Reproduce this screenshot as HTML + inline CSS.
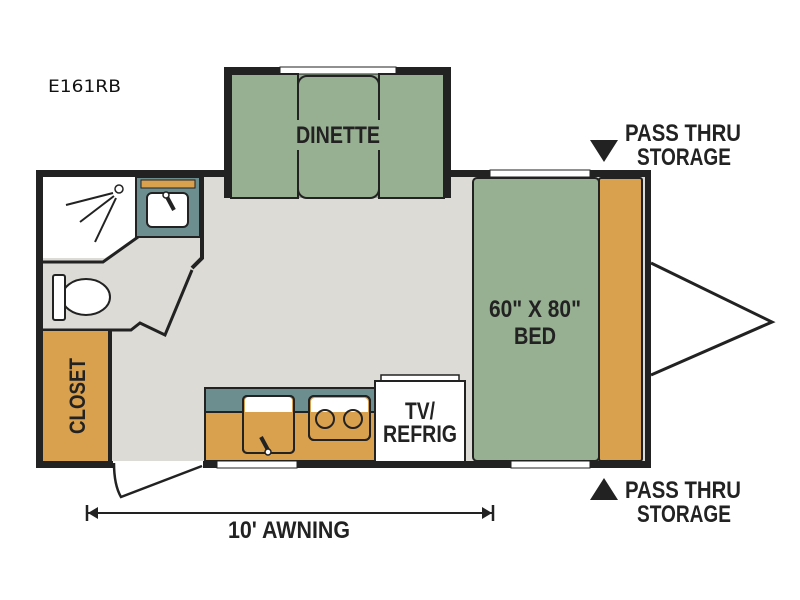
<!DOCTYPE html>
<html><head><meta charset="utf-8"><style>html,body{margin:0;padding:0;background:#fff}svg{display:block}</style></head>
<body>
<svg width="800" height="600" viewBox="0 0 800 600" xmlns="http://www.w3.org/2000/svg">
<rect width="800" height="600" fill="#fff"/>
<text x="48" y="92" font-family="DejaVu Sans, sans-serif" font-size="17" textLength="73" lengthAdjust="spacingAndGlyphs" fill="#111">E161RB</text>

<!-- tongue -->
<polyline points="651,263 772,322 651,375" fill="none" stroke="#222" stroke-width="3"/>

<!-- main shell -->
<rect x="36" y="170" width="615" height="298" fill="#222"/>
<rect x="43" y="177" width="602" height="284" fill="#dcdbd6"/>
<!-- dinette bump -->
<rect x="224" y="67" width="227" height="131" fill="#222"/>
<rect x="231" y="74" width="213" height="124" fill="#97b092"/>
<rect x="280" y="67" width="116" height="7" fill="#fff" stroke="#222" stroke-width="1"/>
<rect x="231" y="74" width="67" height="124" fill="#97b092" stroke="#222" stroke-width="2"/>
<rect x="379" y="74" width="65" height="124" fill="#97b092" stroke="#222" stroke-width="2"/>
<rect x="298" y="76" width="81" height="122" rx="9" fill="#97b092" stroke="#222" stroke-width="2"/>
<rect x="296" y="120" width="85" height="30" fill="#97b092"/>
<text x="338" y="143" text-anchor="middle" font-family="Liberation Sans, sans-serif" font-weight="bold" font-size="24" textLength="84" lengthAdjust="spacingAndGlyphs" fill="#222">DINETTE</text>

<!-- bed -->
<rect x="473" y="178" width="126" height="283" rx="4" fill="#97b092" stroke="#222" stroke-width="2"/>
<rect x="599" y="178" width="43" height="283" rx="2" fill="#d9a04e" stroke="#222" stroke-width="2"/>
<rect x="490" y="170" width="100" height="7" fill="#fff" stroke="#222" stroke-width="1"/>
<rect x="511" y="461" width="79" height="7" fill="#fff" stroke="#222" stroke-width="1"/>
<text x="535" y="317" text-anchor="middle" font-family="Liberation Sans, sans-serif" font-weight="bold" font-size="24" textLength="92" lengthAdjust="spacingAndGlyphs" fill="#222">60" X 80"</text>
<text x="535" y="344" text-anchor="middle" font-family="Liberation Sans, sans-serif" font-weight="bold" font-size="24" textLength="42" lengthAdjust="spacingAndGlyphs" fill="#222">BED</text>

<!-- bathroom -->
<polygon points="43,177 138,177 138,237 105,258 43,258" fill="#fff"/>
<polyline points="43,262 103,262 138,237" fill="none" stroke="#222" stroke-width="3"/>
<rect x="136" y="177" width="64" height="60" fill="#6d8e8e" stroke="#222" stroke-width="2"/>
<rect x="141" y="180" width="54" height="8" fill="#d9a04e" stroke="#222" stroke-width="1"/>
<rect x="147" y="193" width="41" height="34" rx="5" fill="#fff" stroke="#222" stroke-width="2"/>
<line x1="167" y1="197" x2="174" y2="210" stroke="#222" stroke-width="4"/>
<circle cx="166" cy="195" r="3" fill="#fff" stroke="#222" stroke-width="1.5"/>
<circle cx="119" cy="189" r="4" fill="#fff" stroke="#222" stroke-width="1.5"/>
<line x1="113" y1="193" x2="66" y2="205" stroke="#222" stroke-width="2"/>
<line x1="114" y1="196" x2="80" y2="222" stroke="#222" stroke-width="2"/>
<line x1="116" y1="198" x2="95" y2="242" stroke="#222" stroke-width="2"/>
<polyline points="202,177 202,258 192,268" fill="none" stroke="#222" stroke-width="4"/>
<polyline points="192,270 165,335 140,323 131,330 43,330" fill="none" stroke="#222" stroke-width="3"/>
<ellipse cx="86" cy="297" rx="24" ry="18" fill="#fff" stroke="#222" stroke-width="2"/>
<rect x="53" y="275" width="12" height="45" rx="2" fill="#fff" stroke="#222" stroke-width="2"/>

<!-- closet -->
<rect x="43" y="331" width="65" height="130" fill="#d9a04e"/>
<rect x="108" y="331" width="4" height="130" fill="#222"/>
<text transform="translate(85,396) rotate(-90)" text-anchor="middle" font-family="Liberation Sans, sans-serif" font-weight="bold" font-size="22" textLength="76" lengthAdjust="spacingAndGlyphs" fill="#222">CLOSET</text>

<!-- door -->
<rect x="113" y="461" width="90" height="8" fill="#fff"/>
<rect x="112" y="458" width="91" height="3" fill="#dcdbd6"/>
<path d="M114,463 Q114,485 121,497 L202,466" fill="none" stroke="#222" stroke-width="2.5"/>

<!-- kitchen -->
<rect x="205" y="388" width="170" height="73" fill="#d9a04e" stroke="#222" stroke-width="2"/>
<rect x="205" y="388" width="170" height="24" fill="#6d8e8e" stroke="#222" stroke-width="2"/>
<rect x="243" y="396" width="51" height="57" rx="4" fill="#d9a04e" stroke="#222" stroke-width="2"/>
<path d="M245,412 L245,401 Q245,397 249,397 L288,397 Q292,397 292,401 L292,412 Z" fill="#fff"/>
<rect x="243" y="396" width="51" height="57" rx="4" fill="none" stroke="#222" stroke-width="2"/>
<line x1="261" y1="437" x2="268" y2="450" stroke="#222" stroke-width="4"/>
<circle cx="268" cy="452" r="3" fill="#fff" stroke="#222" stroke-width="1.5"/>
<rect x="309" y="396" width="61" height="44" rx="5" fill="#d9a04e" stroke="#222" stroke-width="2"/>
<path d="M311,412 L311,402 Q311,398 315,398 L364,398 Q368,398 368,402 L368,412 Z" fill="#fff"/>
<rect x="309" y="396" width="61" height="44" rx="5" fill="none" stroke="#222" stroke-width="2"/>
<circle cx="325" cy="419" r="9" fill="none" stroke="#222" stroke-width="2"/>
<circle cx="353" cy="419" r="9" fill="none" stroke="#222" stroke-width="2"/>
<rect x="381" y="375" width="78" height="6" fill="#fff" stroke="#222" stroke-width="1.5"/>
<rect x="375" y="381" width="90" height="81" fill="#fff" stroke="#222" stroke-width="2"/>
<text x="420" y="419" text-anchor="middle" font-family="Liberation Sans, sans-serif" font-weight="bold" font-size="24" textLength="30" lengthAdjust="spacingAndGlyphs" fill="#222">TV/</text>
<text x="420" y="442" text-anchor="middle" font-family="Liberation Sans, sans-serif" font-weight="bold" font-size="24" textLength="74" lengthAdjust="spacingAndGlyphs" fill="#222">REFRIG</text>
<rect x="217" y="461" width="80" height="7" fill="#fff" stroke="#222" stroke-width="1"/>

<!-- pass thru -->
<polygon points="590,140 618,140 604,162" fill="#222"/>
<polygon points="590,500 618,500 604,478" fill="#222"/>
<g font-family="Liberation Sans, sans-serif" font-weight="bold" font-size="24" fill="#222">
<text x="625" y="141" textLength="116" lengthAdjust="spacingAndGlyphs">PASS THRU</text>
<text x="637" y="165" textLength="94" lengthAdjust="spacingAndGlyphs">STORAGE</text>
<text x="625" y="498" textLength="116" lengthAdjust="spacingAndGlyphs">PASS THRU</text>
<text x="637" y="522" textLength="94" lengthAdjust="spacingAndGlyphs">STORAGE</text>
</g>

<!-- awning -->
<line x1="87" y1="513" x2="493" y2="513" stroke="#222" stroke-width="2"/>
<line x1="87" y1="505" x2="87" y2="521" stroke="#222" stroke-width="2.5"/>
<polygon points="88,513 98,507 98,519" fill="#222"/>
<line x1="493" y1="505" x2="493" y2="521" stroke="#222" stroke-width="2.5"/>
<polygon points="492,513 482,507 482,519" fill="#222"/>
<text x="289" y="538" text-anchor="middle" font-family="Liberation Sans, sans-serif" font-weight="bold" font-size="24" textLength="122" lengthAdjust="spacingAndGlyphs" fill="#222">10' AWNING</text>
</svg>
</body></html>
